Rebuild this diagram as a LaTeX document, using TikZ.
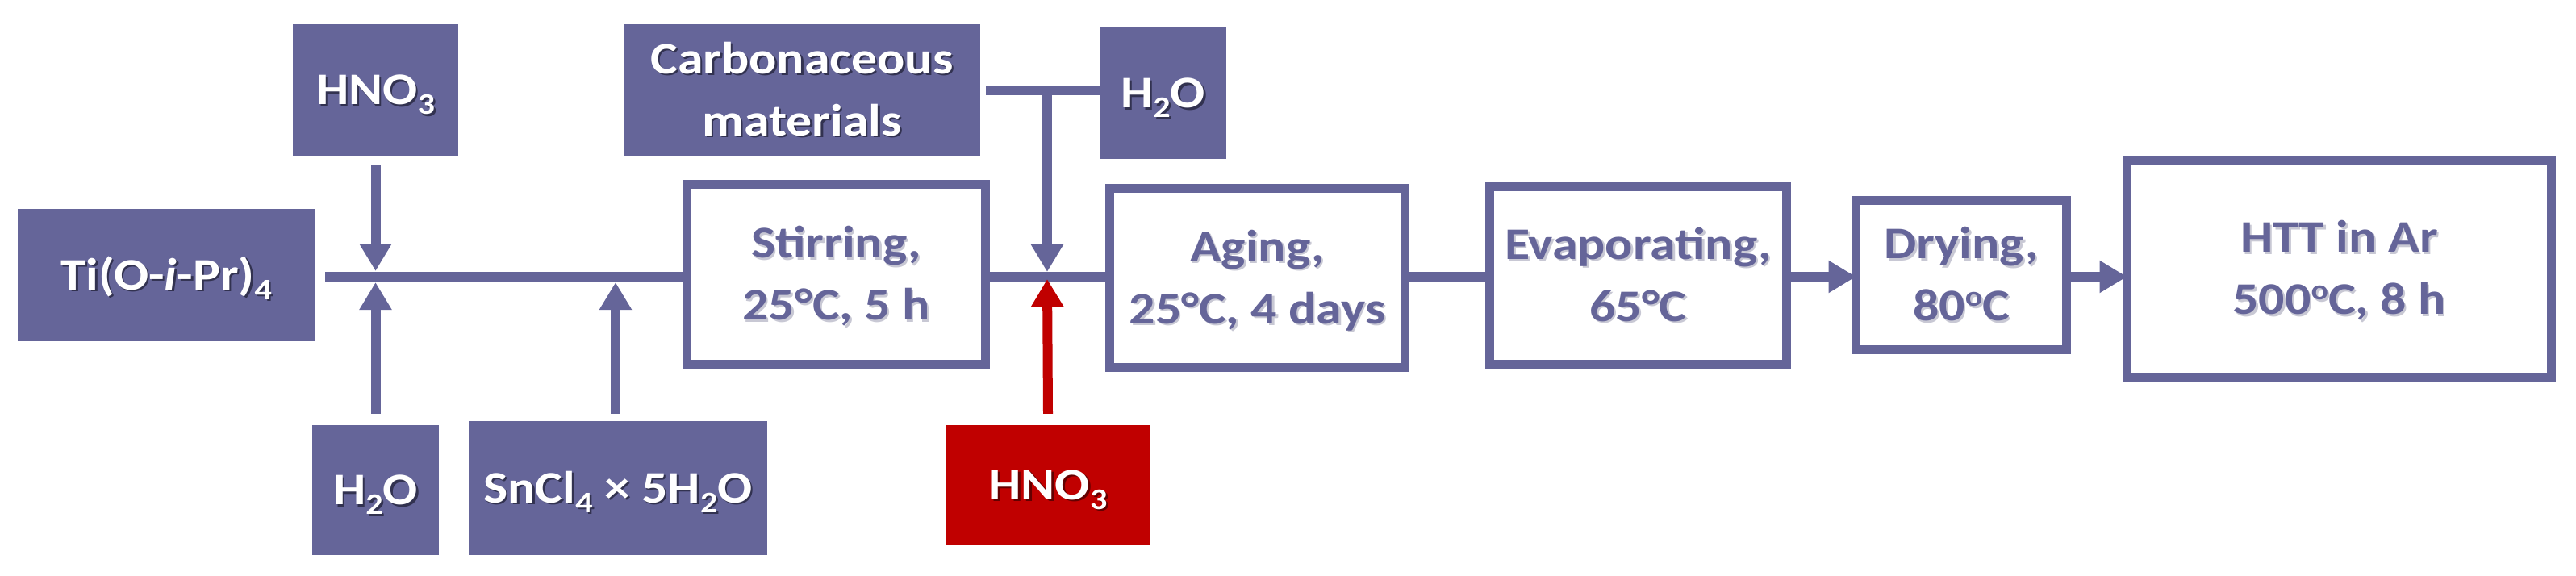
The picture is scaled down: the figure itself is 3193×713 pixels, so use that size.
\documentclass[tikz,border=0pt]{standalone}
\usepackage{fontspec}
\setmainfont{Carlito}[FakeStretch=1.14]
\usetikzlibrary{arrows.meta}
\definecolor{pur}{RGB}{101,101,153}
\definecolor{redb}{RGB}{192,0,0}
\definecolor{shdark}{RGB}{50,50,80}
\definecolor{shlight}{RGB}{200,200,212}
\definecolor{shred}{RGB}{100,0,0}
\def\shcol{shdark}
\newcommand\sh[1]{\leavevmode\rlap{\kern2.5pt\raisebox{-2.5pt}{\textcolor{\shcol}{#1}}}#1}
\newcommand\sub[1]{\raisebox{-12pt}{\fontsize{37}{37}\selectfont #1}}
\newcommand\supo{\raisebox{18pt}{\fontsize{35}{35}\selectfont o}}
\newcommand\one[1]{\raisebox{0pt}[36pt][0pt]{\sh{#1}}}
\newcommand\two[2]{\raisebox{0pt}[36pt][77pt]{\vtop{\baselineskip=77pt\lineskiplimit=-200pt\lineskip=0pt\halign{\hfil##\hfil\cr\sh{#1}\cr\sh{#2}\cr}}}}
\tikzset{
  every node/.style={font=\bfseries\fontsize{56}{77}\selectfont},
  fillbox/.style={rectangle, fill=pur, draw=none, text=white, inner sep=0pt},
  redbox/.style={fillbox, fill=redb, font=\bfseries\fontsize{56}{77}\selectfont\def\shcol{shred}},
  outbox/.style={rectangle, draw=pur, line width=11pt, fill=white, text=pur, inner sep=0pt,
    font=\bfseries\fontsize{56}{77}\selectfont\def\shcol{shlight}},
  conn/.style={draw=pur, line width=12pt},
  arr/.style={conn, -{Triangle[width=38pt,length=34pt]}},
  harr/.style={arr, shorten >=-5.5pt}
}
\begin{document}
\begin{tikzpicture}[x=1pt,y=-1pt]
\fill[white] (0,0) rectangle (3193,713);
\useasboundingbox (0,0) rectangle (3193,713);
% input boxes
\node[fillbox, minimum width=205pt, minimum height=163pt] (hnoA) at (465.5,111.5) {\one{HNO\sub{3}}};
\node[fillbox, minimum width=368pt, minimum height=164pt] (ti) at (206,341) {\one{Ti(O-\textit{i}-Pr)\sub{4}}};
\node[fillbox, minimum width=157pt, minimum height=161pt] (h2oB) at (465.5,607.5) {\one{H\sub{2}O}};
\node[fillbox, minimum width=370pt, minimum height=166pt] (sn) at (766,605) {\one{SnCl\sub{4} × 5H\sub{2}O}};
\node[fillbox, minimum width=442pt, minimum height=163pt] (carb) at (994,111.5) {\two{Carbonaceous}{materials}};
\node[fillbox, minimum width=157pt, minimum height=163pt] (h2oT) at (1441.5,115.5) {\one{H\sub{2}O}};
\node[redbox, minimum width=252pt, minimum height=148pt] (hnoR) at (1299,601) {\one{HNO\sub{3}}};
% process boxes
\node[outbox, minimum width=370pt, minimum height=223pt] (stir) at (1036.5,340) {\two{Stirring,}{25°C, 5 h}};
\node[outbox, minimum width=366pt, minimum height=222pt] (aging) at (1558.5,344.5) {\two{Aging,}{25°C, 4 days}};
\node[outbox, minimum width=368pt, minimum height=220pt] (evap) at (2030.5,341.5) {\two{Evaporating,}{65°C}};
\node[outbox, minimum width=261pt, minimum height=185pt] (dry) at (2431,341) {\two{Drying,}{80\supo C}};
\node[outbox, minimum width=526pt, minimum height=269pt] (htt) at (2899.5,333) {\two{HTT in Ar}{500\supo C, 8 h}};
% coordinates
\coordinate (s0) at (403,343);
\coordinate (tA) at (465.5,336);
\coordinate (tB) at (465.5,350);
\coordinate (tC) at (763,350);
\coordinate (k1) at (1222,112);
\coordinate (k2) at (1298,112);
\coordinate (tD) at (1298,337);
\coordinate (tE) at (1298,346);
% main line
\draw[conn] (s0) -- (stir.west |- s0);
\draw[conn] (stir.east |- s0) -- (aging.west |- s0);
\draw[conn] (aging.east |- s0) -- (evap.west |- s0);
\draw[harr] (evap.east |- s0) -- (dry.west |- s0);
\draw[harr] (dry.east |- s0) -- (htt.west |- s0);
% feeds
\draw[arr] ([yshift=-12pt]hnoA.south) -- (tA);
\draw[arr] ([yshift=14pt]h2oB.north) -- (tB);
\draw[arr] ([yshift=9pt]tC |- sn.north) -- (tC);
\draw[conn] (k1) -- (h2oT.west |- k1);
\draw[arr] (k2) -- (tD);
\draw[arr, draw=redb] ([yshift=14pt]hnoR.north) -- (tE);
\end{tikzpicture}
\end{document}
